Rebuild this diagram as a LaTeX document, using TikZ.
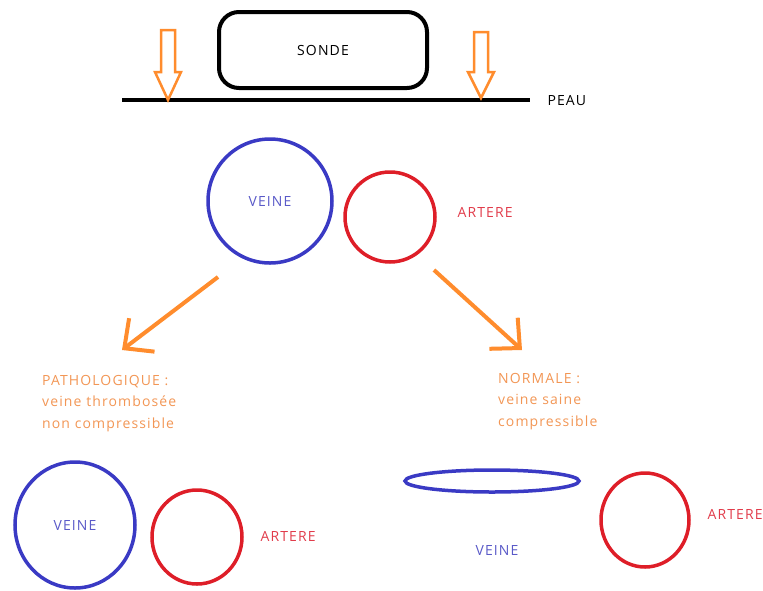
\documentclass[tikz,border=0pt]{standalone}
\usepackage{fontspec}
\setmainfont{Open Sans}[LetterSpace=8]
\usetikzlibrary{shapes.geometric,arrows.meta}
\definecolor{bleu}{RGB}{58,58,196}
\definecolor{bleutexte}{RGB}{90,90,200}
\definecolor{rouge}{RGB}{222,30,40}
\definecolor{rougetexte}{RGB}{225,60,75}
\definecolor{orangefleche}{RGB}{255,140,45}
\definecolor{orangetexte}{RGB}{242,150,85}
\begin{document}
\begin{tikzpicture}[x=1pt,y=-1pt,
  texte/.style={font=\fontsize{14}{21.5}\selectfont},
  veine/.style={ellipse,draw=bleu,line width=3.5pt,inner sep=0pt,texte,text=bleutexte},
  artere/.style={ellipse,draw=rouge,line width=3.5pt,inner sep=0pt},
  nomartere/.style={texte,text=rougetexte,anchor=west},
  pression/.style={draw=orangefleche,fill=white,line width=2.5pt},
  fleche/.style={draw=orangefleche,line width=4pt,-{Straight Barb[length=22pt,width=42pt]}},
  legende/.style={texte,text=orangetexte,align=left,anchor=north west,inner sep=0pt}]
  \useasboundingbox (0,0) rectangle (763,590);

  % sonde et peau
  \node[draw,line width=4pt,rounded corners=20pt,minimum width=208pt,minimum height=76pt,texte] (sonde) at (323,50) {SONDE};
  \coordinate (peaug) at (122,100);
  \coordinate (peaud) at (530,100);
  \draw[line width=4pt] (peaug) -- (peaud);
  \node[texte,anchor=west] (peau) at (544,101) {PEAU};

  % compression
  \draw[pression] (161,30) -- (175,30) -- (175,72) -- (181,72) -- (168,100) -- (155,72) -- (161,72) -- cycle;
  \draw[pression] (474,32) -- (488,32) -- (488,72) -- (494,72) -- (481,98) -- (468,72) -- (474,72) -- cycle;

  % avant compression
  \node[veine,minimum width=124pt,minimum height=124pt] (veine) at (270,201) {VEINE};
  \node[artere,minimum width=90pt,minimum height=90pt] (artere) at (390,217) {};
  \node[nomartere] (nomartere) at (454,212) {ARTERE};

  \coordinate (gdebut) at (218,277);
  \coordinate (gfin) at (122,350);
  \coordinate (ddebut) at (434,270);
  \coordinate (dfin) at (522,350);
  \draw[fleche] (gdebut) -- (gfin);
  \draw[fleche] (ddebut) -- (dfin);

  \node[legende] (patho) at (42,375) {PATHOLOGIQUE :\\veine thrombosée\\non compressible};
  \node[legende] (normale) at (498,373) {NORMALE :\\veine saine\\compressible};

  % pathologique
  \node[veine,minimum width=120pt,minimum height=126pt] (veinep) at (75,525) {VEINE};
  \node[artere,minimum width=90pt,minimum height=94pt] (arterep) at (197,537) {};
  \node[nomartere] (nomarterep) at (257,536) {ARTERE};

  % normale
  \coordinate (veinen) at (492,481);
  \draw[draw=bleu,line width=3.5pt] (veinen) ellipse [x radius=87, y radius=11];
  \node[texte,text=bleutexte] (nomveinen) at (497,550) {VEINE};
  \node[artere,minimum width=88pt,minimum height=94pt] (arteren) at (645,520) {};
  \node[nomartere] (nomarteren) at (704,514) {ARTERE};
\end{tikzpicture}
\end{document}
